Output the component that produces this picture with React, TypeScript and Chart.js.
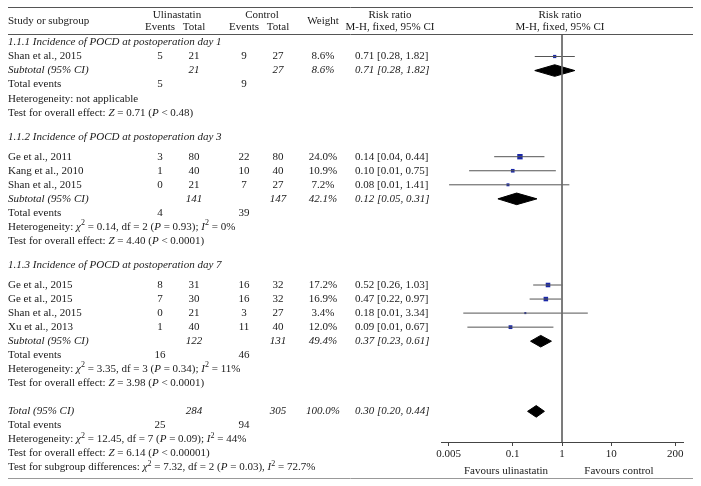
import React, { useEffect, useRef } from "react";
import { Chart, registerables } from "chart.js";
Chart.register(...registerables);

// ---------------- data ----------------
const groupTitles = [
  "1.1.1 Incidence of POCD at postoperation day 1",
  "1.1.2 Incidence of POCD at postoperation day 3",
  "1.1.3 Incidence of POCD at postoperation day 7",
];
const studyLabels = [
  "Shan et al., 2015",
  "Ge et al., 2011",
  "Kang et al., 2010",
  "Shan et al., 2015",
  "Ge et al., 2015",
  "Ge et al., 2015",
  "Shan et al., 2015",
  "Xu et al., 2013",
];
const studyGroup = [0, 1, 1, 1, 2, 2, 2, 2];
const ulinEvents = [5, 3, 1, 0, 8, 7, 0, 1];
const ulinTotal = [21, 80, 40, 21, 31, 30, 21, 40];
const ctrlEvents = [9, 22, 10, 7, 16, 16, 3, 11];
const ctrlTotal = [27, 80, 40, 27, 32, 32, 27, 40];
const studyWeight = [8.6, 24.0, 10.9, 7.2, 17.2, 16.9, 3.4, 12.0];
const studyRR = [0.71, 0.14, 0.1, 0.08, 0.52, 0.47, 0.18, 0.09];
const studyLow = [0.28, 0.042, 0.013, 0.0051, 0.26, 0.22, 0.0099, 0.012];
const studyHigh = [1.82, 0.44, 0.75, 1.41, 1.03, 0.97, 3.34, 0.67];

const subUlinTotal = [21, 141, 122];
const subCtrlTotal = [27, 147, 131];
const subWeight = [8.6, 42.1, 49.4];
const subRR = [0.71, 0.12, 0.37];
const subLow = [0.28, 0.05, 0.23];
const subHigh = [1.82, 0.31, 0.61];
const subUlinEvents = [5, 4, 16];
const subCtrlEvents = [9, 39, 46];
const hetChi2 = [NaN, 0.14, 3.35];
const hetDf = [NaN, 2, 3];
const hetP = [NaN, 0.93, 0.34];
const hetI2 = [NaN, 0, 11];
const effectZ = [0.71, 4.4, 3.98];
const effectP = ["< 0.48", "< 0.0001", "< 0.0001"];

const totalCounts = [284, 305];
const totalEvents = [25, 94];
const totalWeight = [100.0];
const totalRR = [0.3, 0.2, 0.44];
const totalHet = [12.45, 7, 0.09, 44];
const totalEffect = [6.14];
const totalEffectP = ["< 0.00001"];
const subgroupDiff = [7.32, 2, 0.03, 72.7];

const xTicks = [0.005, 0.1, 1, 10, 200];
const favourLabels = ["Favours ulinastatin", "Favours control"];

// ---------------- layout ----------------
const FONT = '"Liberation Serif", "Times New Roman", serif';
const SIZE = 11;
const TOP = 35;
const AXIS_Y = 442;
const PLOT_L = 441;
const PLOT_R = 683;

type Seg = { t: string; i?: boolean; sup?: boolean };

function buildLayout() {
  const ROW = 14.05;
  const titleY: number[] = [];
  const studyY: number[] = [];
  const subY: number[] = [];
  const evY: number[] = [];
  const hetY: number[] = [];
  const testY: number[] = [];
  let y = 42.5;
  for (let g = 0; g < groupTitles.length; g++) {
    if (g > 0) y += 24.5;
    titleY.push(y);
    y += g === 0 ? 14 : 19.5;
    let first = true;
    for (let i = 0; i < studyLabels.length; i++) {
      if (studyGroup[i] !== g) continue;
      if (!first) y += ROW;
      first = false;
      studyY[i] = y;
    }
    y += ROW;
    subY.push(y);
    y += ROW;
    evY.push(y);
    y += ROW;
    hetY.push(y);
    y += ROW;
    testY.push(y);
  }
  const totalY = y + 28;
  return {
    titleY,
    studyY,
    subY,
    evY,
    hetY,
    testY,
    totalY,
    totalEvY: totalY + ROW,
    totalHetY: totalY + 2 * ROW,
    totalTestY: totalY + 3 * ROW,
    subgroupY: totalY + 4 * ROW,
  };
}

function fnt(i?: boolean, sup?: boolean) {
  return `${i ? "italic " : ""}${sup ? 8 : SIZE}px ${FONT}`;
}

function drawSegs(ctx: CanvasRenderingContext2D, segs: Seg[], x: number, y: number, align: "left" | "center" = "left") {
  let w = 0;
  for (const s of segs) {
    ctx.font = fnt(s.i, s.sup);
    w += ctx.measureText(s.t).width;
  }
  let cx = align === "center" ? x - w / 2 : x;
  ctx.textAlign = "left";
  for (const s of segs) {
    ctx.font = fnt(s.i, s.sup);
    ctx.fillText(s.t, cx, s.sup ? y - 4 : y);
    cx += ctx.measureText(s.t).width;
  }
}

function txt(ctx: CanvasRenderingContext2D, t: string, x: number, y: number, align: "left" | "center" = "left", italic = false) {
  drawSegs(ctx, [{ t, i: italic }], x, y, align);
}

const f2 = (v: number) => v.toFixed(2);
const rrText = (e: number, l: number, h: number) => `${f2(e)} [${f2(l)}, ${f2(h)}]`;

function hetSegs(chi: number, df: number, p: number, i2: number, sep: string): Seg[] {
  return [
    { t: "Heterogeneity: " },
    { t: "χ", i: true },
    { t: "2", sup: true },
    { t: ` = ${f2(chi)}, df = ${df} (` },
    { t: "P", i: true },
    { t: ` = ${f2(p)})${sep} ` },
    { t: "I", i: true },
    { t: "2", sup: true },
    { t: ` = ${i2}%` },
  ];
}

function testSegs(z: number, p: string): Seg[] {
  return [
    { t: "Test for overall effect: " },
    { t: "Z", i: true },
    { t: ` = ${f2(z)} (` },
    { t: "P", i: true },
    { t: ` ${p})` },
  ];
}

const COL = { label: 8, ue: 160, ut: 194, ce: 244, ct: 278, w: 323, rr: 355 };

export default function App() {
  const ref = useRef<HTMLCanvasElement>(null);

  useEffect(() => {
    document.body.style.margin = "0";
    const L = buildLayout();

    const datasets: any[] = [];
    // line of no effect
    datasets.push({
      data: [
        { x: 1, y: TOP },
        { x: 1, y: AXIS_Y },
      ],
      showLine: true,
      borderColor: "#6b6b6b",
      borderWidth: 1,
      pointRadius: 0,
    });
    // CI whiskers
    studyLabels.forEach((_, i) => {
      datasets.push({
        data: [
          { x: studyLow[i], y: L.studyY[i] },
          { x: studyHigh[i], y: L.studyY[i] },
        ],
        showLine: true,
        borderColor: "#555555",
        borderWidth: 1,
        pointRadius: 0,
      });
    });
    // squares
    datasets.push({
      data: studyLabels.map((_, i) => ({ x: studyRR[i], y: L.studyY[i] })),
      pointStyle: "rect",
      pointRadius: (ctx: any) => (1.1 * Math.sqrt(studyWeight[ctx.dataIndex])) / Math.SQRT2,
      pointBackgroundColor: "#1a28a8",
      pointBorderWidth: 0,
      showLine: false,
    });
    // diamonds
    const diamonds: { e: number; l: number; h: number; y: number }[] = subRR.map((e, g) => ({
      e,
      l: subLow[g],
      h: subHigh[g],
      y: L.subY[g],
    }));
    diamonds.push({ e: totalRR[0], l: totalRR[1], h: totalRR[2], y: L.totalY });
    diamonds.forEach((d) => {
      const hh = 5.8;
      datasets.push({
        data: [
          { x: d.l, y: d.y },
          { x: d.e, y: d.y - hh },
          { x: d.h, y: d.y },
          { x: d.e, y: d.y + hh },
          { x: d.l, y: d.y },
        ],
        showLine: true,
        fill: "shape",
        backgroundColor: "#000",
        borderColor: "#000",
        borderWidth: 1,
        pointRadius: 0,
      });
    });

    const textPlugin = {
      id: "forestText",
      afterDraw(chart: any) {
        const ctx: CanvasRenderingContext2D = chart.ctx;
        const ys = chart.scales.y;
        const Y = (v: number) => ys.getPixelForValue(v);
        ctx.save();
        ctx.fillStyle = "#1a1a1a";
        ctx.textBaseline = "middle";

        // rules
        ctx.strokeStyle = "#555";
        ctx.lineWidth = 1;
        ctx.beginPath();
        ctx.moveTo(8, 7.5);
        ctx.lineTo(693, 7.5);
        ctx.moveTo(8, 34.5);
        ctx.lineTo(693, 34.5);
        ctx.stroke();
        ctx.strokeStyle = "#999";
        ctx.beginPath();
        ctx.moveTo(8, 478.5);
        ctx.lineTo(693, 478.5);
        ctx.stroke();

        // header
        txt(ctx, "Study or subgroup", COL.label, 21);
        txt(ctx, "Ulinastatin", 177, 15, "center");
        txt(ctx, "Control", 262, 15, "center");
        txt(ctx, "Events", COL.ue, 27.5, "center");
        txt(ctx, "Total", COL.ut, 27.5, "center");
        txt(ctx, "Events", COL.ce, 27.5, "center");
        txt(ctx, "Total", COL.ct, 27.5, "center");
        txt(ctx, "Weight", COL.w, 21, "center");
        txt(ctx, "Risk ratio", 390, 15, "center");
        txt(ctx, "M-H, fixed, 95% CI", 390, 27.5, "center");
        txt(ctx, "Risk ratio", 560, 15, "center");
        txt(ctx, "M-H, fixed, 95% CI", 560, 27.5, "center");

        for (let g = 0; g < groupTitles.length; g++) {
          txt(ctx, groupTitles[g], COL.label, Y(L.titleY[g]), "left", true);
          for (let i = 0; i < studyLabels.length; i++) {
            if (studyGroup[i] !== g) continue;
            const y = Y(L.studyY[i]);
            txt(ctx, studyLabels[i], COL.label, y);
            txt(ctx, String(ulinEvents[i]), COL.ue, y, "center");
            txt(ctx, String(ulinTotal[i]), COL.ut, y, "center");
            txt(ctx, String(ctrlEvents[i]), COL.ce, y, "center");
            txt(ctx, String(ctrlTotal[i]), COL.ct, y, "center");
            txt(ctx, `${studyWeight[i].toFixed(1)}%`, COL.w, y, "center");
            txt(ctx, rrText(studyRR[i], studyLow[i], studyHigh[i]), COL.rr, y);
          }
          let y = Y(L.subY[g]);
          txt(ctx, "Subtotal (95% CI)", COL.label, y, "left", true);
          txt(ctx, String(subUlinTotal[g]), COL.ut, y, "center", true);
          txt(ctx, String(subCtrlTotal[g]), COL.ct, y, "center", true);
          txt(ctx, `${subWeight[g].toFixed(1)}%`, COL.w, y, "center", true);
          txt(ctx, rrText(subRR[g], subLow[g], subHigh[g]), COL.rr, y, "left", true);
          y = Y(L.evY[g]);
          txt(ctx, "Total events", COL.label, y);
          txt(ctx, String(subUlinEvents[g]), COL.ue, y, "center");
          txt(ctx, String(subCtrlEvents[g]), COL.ce, y, "center");
          y = Y(L.hetY[g]);
          if (isNaN(hetChi2[g])) txt(ctx, "Heterogeneity: not applicable", COL.label, y);
          else drawSegs(ctx, hetSegs(hetChi2[g], hetDf[g], hetP[g], hetI2[g], ";"), COL.label, y);
          drawSegs(ctx, testSegs(effectZ[g], effectP[g]), COL.label, Y(L.testY[g]));
        }

        let y = Y(L.totalY);
        txt(ctx, "Total (95% CI)", COL.label, y, "left", true);
        txt(ctx, String(totalCounts[0]), COL.ut, y, "center", true);
        txt(ctx, String(totalCounts[1]), COL.ct, y, "center", true);
        txt(ctx, `${totalWeight[0].toFixed(1)}%`, COL.w, y, "center", true);
        txt(ctx, rrText(totalRR[0], totalRR[1], totalRR[2]), COL.rr, y, "left", true);
        y = Y(L.totalEvY);
        txt(ctx, "Total events", COL.label, y);
        txt(ctx, String(totalEvents[0]), COL.ue, y, "center");
        txt(ctx, String(totalEvents[1]), COL.ce, y, "center");
        drawSegs(ctx, hetSegs(totalHet[0], totalHet[1], totalHet[2], totalHet[3], ";"), COL.label, Y(L.totalHetY));
        drawSegs(ctx, testSegs(totalEffect[0], totalEffectP[0]), COL.label, Y(L.totalTestY));
        const sg = hetSegs(subgroupDiff[0], subgroupDiff[1], subgroupDiff[2], subgroupDiff[3], ",");
        sg[0] = { t: "Test for subgroup differences: " };
        drawSegs(ctx, sg, COL.label, Y(L.subgroupY));

        // favours labels
        txt(ctx, favourLabels[0], 506, 471, "center");
        txt(ctx, favourLabels[1], 619, 471, "center");
        ctx.restore();
      },
    };

    const chart = new Chart(ref.current as HTMLCanvasElement, {
      type: "scatter",
      data: { datasets },
      options: {
        animation: false,
        responsive: false,
        devicePixelRatio: 1,
        layout: { padding: { left: PLOT_L, right: 701 - PLOT_R, top: TOP, bottom: 486 - AXIS_Y - 20 } },
        plugins: { legend: { display: false }, tooltip: { enabled: false } },
        scales: {
          x: {
            type: "logarithmic",
            min: 0.003495,
            max: 286.1,
            bounds: "data",
            afterBuildTicks: (scale: any) => {
              scale.ticks = xTicks.map((v) => ({ value: v }));
            },
            afterFit: (scale: any) => {
              scale.height = 20;
              scale.paddingLeft = 0;
              scale.paddingRight = 0;
            },
            grid: {
              display: true,
              drawOnChartArea: false,
              drawTicks: true,
              tickLength: 4,
              tickColor: "#444",
            },
            border: { display: true, color: "#444", width: 1 },
            ticks: {
              autoSkip: false,
              maxRotation: 0,
              padding: 1.5,
              color: "#1a1a1a",
              font: { family: FONT, size: SIZE },
              callback: (v: any) => String(v),
            },
          },
          y: {
            type: "linear",
            display: false,
            reverse: true,
            min: TOP,
            max: AXIS_Y,
          },
        },
      } as any,
      plugins: [textPlugin],
    });
    return () => chart.destroy();
  }, []);

  return <canvas ref={ref} width={701} height={486} style={{ display: "block", width: 701, height: 486 }} />;
}
